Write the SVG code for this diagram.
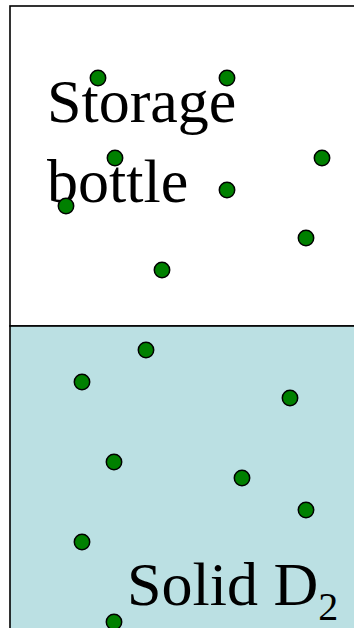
<svg xmlns="http://www.w3.org/2000/svg" width="354" height="628" viewBox="0 0 354 628">
<style>
.box{stroke:#000;stroke-width:1.6}
.dot{fill:#008000;stroke:#000;stroke-width:1.5}
.lbl{font-family:"Liberation Serif","Times New Roman",serif;font-size:62px;fill:#000}
</style>
<rect width="354" height="628" fill="#fff"/>
<g id="bottle">
<rect class="box" x="10" y="6" width="360" height="320" fill="#fff"/>
<text class="lbl" x="47" y="122">Storage</text>
<text class="lbl" x="47" y="202">bottle</text>
</g>
<g id="solid">
<rect class="box" x="10" y="326" width="360" height="320" fill="#bbe0e3"/>
<text class="lbl" x="127" y="605">Solid D<tspan font-size="40" dy="15">2</tspan></text>
</g>
<g id="molecules">
<circle class="dot" cx="98" cy="78" r="7.7"/>
<circle class="dot" cx="227" cy="78" r="7.7"/>
<circle class="dot" cx="115" cy="158" r="7.7"/>
<circle class="dot" cx="322" cy="158" r="7.7"/>
<circle class="dot" cx="66" cy="206" r="7.7"/>
<circle class="dot" cx="227" cy="190" r="7.7"/>
<circle class="dot" cx="306" cy="238" r="7.7"/>
<circle class="dot" cx="162" cy="270" r="7.7"/>
<circle class="dot" cx="146" cy="350" r="7.7"/>
<circle class="dot" cx="82" cy="382" r="7.7"/>
<circle class="dot" cx="290" cy="398" r="7.7"/>
<circle class="dot" cx="114" cy="462" r="7.7"/>
<circle class="dot" cx="242" cy="478" r="7.7"/>
<circle class="dot" cx="306" cy="510" r="7.7"/>
<circle class="dot" cx="82" cy="542" r="7.7"/>
<circle class="dot" cx="114" cy="622" r="7.7"/>
</g>
</svg>
